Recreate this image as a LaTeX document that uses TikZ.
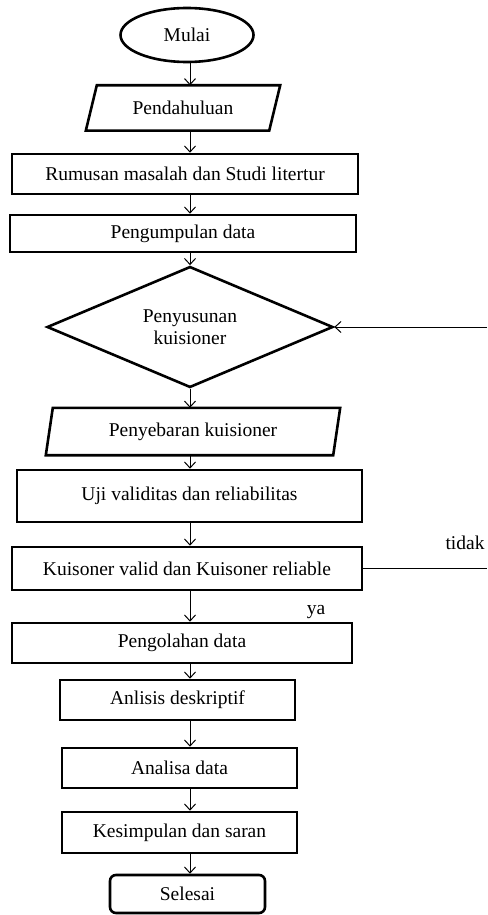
\documentclass[tikz,border=0pt]{standalone}
\usepackage{fontspec}
\setmainfont{Liberation Serif}
\usetikzlibrary{shapes.geometric,arrows.meta}
\begin{document}
\begin{tikzpicture}[x=1pt,y=-1pt,
  txt/.style={font=\fontsize{19.5}{21}\selectfont, inner sep=0pt},
  boxline/.style={draw=black, line width=2.6pt},
  procbox/.style={txt, boxline, rectangle},
  arr/.style={draw=black, line width=1pt, -{Straight Barb[length=6pt,width=11pt]}},
  plain/.style={draw=black, line width=1pt}]
\useasboundingbox (0,0) rectangle (487,915);
\fill[white] (0,0) rectangle (487,915);
\coordinate (col) at (190,0);
\coordinate (rb) at (487,0);

% start
\node[txt, boxline, ellipse, minimum width=133, minimum height=54] (mulai) at (187,35) {Mulai};
% Pendahuluan (parallelogram)
\node[txt, minimum width=194, minimum height=45] (pend) at (183,108) {Pendahuluan};
\draw[boxline] ([xshift=11]pend.north west) -- (pend.north east) -- ([xshift=-11]pend.south east) -- (pend.south west) -- cycle;
\node[procbox, minimum width=346, minimum height=40] (rumus) at (185,174) {Rumusan masalah dan Studi litertur};
\node[procbox, minimum width=346, minimum height=37] (kumpul) at (183,233.5) {Pengumpulan data};
\node[txt, boxline, diamond, align=center, minimum width=286, minimum height=121, aspect=2.36] (susun) at (190,327) {Penyusunan\\[1pt]kuisioner};
% Penyebaran (parallelogram)
\node[txt, minimum width=294, minimum height=47] (sebar) at (193,431.5) {Penyebaran kuisioner};
\draw[boxline] ([xshift=7]sebar.north west) -- (sebar.north east) -- ([xshift=-7]sebar.south east) -- (sebar.south west) -- cycle;
\node[procbox, minimum width=345, minimum height=52] (uji) at (189.5,496) {Uji validitas dan reliabilitas};
\node[procbox, minimum width=350, minimum height=43] (valid) at (187,568.5) {Kuisoner valid dan Kuisoner reliable};
\node[procbox, minimum width=340, minimum height=40] (olah) at (182,643) {Pengolahan data};
\node[procbox, minimum width=235, minimum height=40] (anlis) at (177.5,700) {Anlisis deskriptif};
\node[procbox, minimum width=235, minimum height=40] (anal) at (179.5,768) {Analisa data};
\node[procbox, minimum width=235, minimum height=41] (kesim) at (179.5,832.5) {Kesimpulan dan saran};
\node[txt, boxline, rounded corners=6pt, minimum width=155, minimum height=38] (selesai) at (187.5,894) {Selesai};

\node[txt] (tidak) at (465,543) {tidak};
\node[txt] (ya) at (316,612) {ya};

% arrows
\draw[arr] (mulai.south -| col) -- (pend.north -| col);
\draw[arr] (pend.south -| col) -- (rumus.north -| col);
\draw[arr] (rumus.south -| col) -- (kumpul.north -| col);
\draw[arr] (kumpul.south -| col) -- (susun.north);
\draw[arr] (susun.south) -- (sebar.north -| col);
\draw[arr] (sebar.south -| col) -- (uji.north -| col);
\draw[arr] (uji.south -| col) -- (valid.north -| col);
\draw[arr] (valid.south -| col) -- (olah.north -| col);
\draw[arr] (olah.south -| col) -- (anlis.north -| col);
\draw[arr] (anlis.south -| col) -- (anal.north -| col);
\draw[arr] (anal.south -| col) -- (kesim.north -| col);
\draw[arr] (kesim.south -| col) -- (selesai.north -| col);
% feedback (tidak)
\coordinate (fb1) at (valid.east -| rb);
\coordinate (fb2) at (susun.east -| rb);
\draw[plain] (valid.east) -- (fb1);
\draw[arr] (fb2) -- (susun.east);
\end{tikzpicture}
\end{document}
